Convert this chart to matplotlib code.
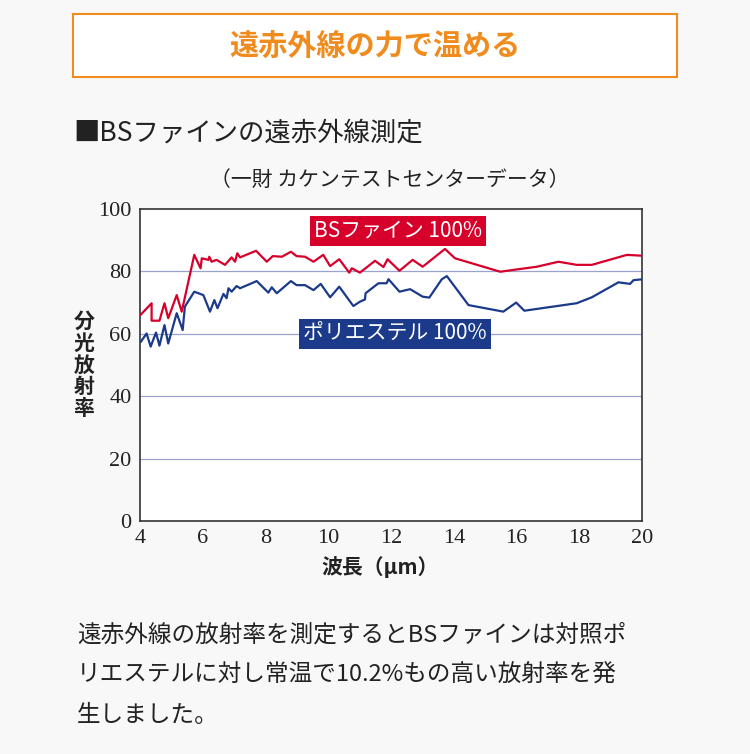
import matplotlib
matplotlib.use("Agg")
import matplotlib.pyplot as plt
from matplotlib.patches import Rectangle

plt.rcParams['font.family'] = 'Noto Sans CJK JP'

# BSファイン 100%
bs_x = [4.03, 4.37, 4.37, 4.62, 4.78, 4.90, 5.17, 5.33, 5.73, 5.93, 5.97, 6.18, 6.21, 6.28, 6.44,
        6.71, 6.92, 7.03, 7.10, 7.19, 7.70, 8.04, 8.23, 8.52, 8.81, 8.99, 9.26, 9.53, 9.84, 10.06,
        10.35, 10.67, 10.75, 11.01, 11.49, 11.76, 11.89, 12.27, 12.69, 13.01, 13.72, 14.04, 15.48,
        16.65, 17.34, 17.92, 18.40, 19.52, 20.05]
bs_y = [66.2, 69.8, 64.2, 64.2, 69.8, 65.0, 72.4, 67.1, 85.3, 81.0, 84.2, 83.7, 84.7, 83.1, 83.7,
        82.1, 84.5, 83.1, 85.8, 84.5, 86.6, 83.1, 84.9, 84.7, 86.3, 84.9, 84.7, 83.1, 85.3, 81.7,
        83.9, 79.6, 81.0, 79.6, 83.4, 81.4, 83.9, 80.2, 83.7, 81.5, 87.2, 84.2, 79.9,
        81.5, 83.1, 82.1, 82.1, 85.3, 85.0]

# ポリエステル 100%
pe_x = [4.03, 4.21, 4.34, 4.51, 4.62, 4.78, 4.90, 5.17, 5.36, 5.43, 5.73, 6.02, 6.23, 6.37, 6.47,
        6.66, 6.76, 6.82, 6.92, 7.08, 7.19, 7.72, 8.09, 8.20, 8.36, 8.81, 8.99, 9.26, 9.53, 9.76,
        10.06, 10.35, 10.80, 11.01, 11.17, 11.19, 11.60, 11.86, 11.92, 12.27, 12.61, 13.01, 13.22,
        13.62, 13.78, 14.47, 15.58, 15.99, 16.25, 17.92, 18.40, 19.25, 19.62, 19.73, 20.05]
pe_y = [57.5, 60.1, 55.9, 60.4, 56.2, 62.8, 56.9, 66.6, 61.2, 68.7, 73.5, 72.4, 67.1, 70.8, 68.2,
        72.8, 71.4, 74.6, 73.5, 75.3, 74.6, 76.9, 73.2, 74.9, 73.0, 76.9, 75.6, 75.6, 74.0, 76.0,
        71.7, 75.1, 68.9, 70.3, 71.0, 73.0, 76.2, 76.2, 77.5, 73.5, 74.3, 71.9, 71.6,
        77.5, 78.5, 69.2, 67.1, 70.0, 67.4, 69.8, 71.7, 76.5, 76.0, 77.2, 77.5]

RED = '#d7002a'
BLUE = '#1b3a8a'
ORANGE = '#f08c1e'

fig = plt.figure(figsize=(7.5, 7.54), dpi=100)
fig.patch.set_facecolor('#f8f8f8')

# title box
fig.patches.append(Rectangle((73/750, 1-77/754), 604/750, 63/754, transform=fig.transFigure,
                             facecolor='white', edgecolor=ORANGE, lw=1.5))
fig.text(0.5, 1-46/754, '遠赤外線の力で温める', color=ORANGE, fontsize=21, fontweight='bold',
         ha='center', va='center')
fig.text(73/750, 1-133/754, '■BSファインの遠赤外線測定', fontsize=19, va='center', color='#222222')
fig.text(390/750, 1-180/754, '（一財 カケンテストセンターデータ）', fontsize=15, ha='center', va='center',
         color='#222222')

ax = fig.add_axes([140/750, 1-521/754, 502/750, 312/754])
ax.set_facecolor('white')
ax.plot(bs_x, bs_y, color=RED, lw=1.6, zorder=3)
ax.plot(pe_x, pe_y, color=BLUE, lw=1.6, zorder=3)
ax.set_xlim(4, 20)
ax.set_ylim(0, 100)
ax.set_xticks(range(4, 21, 2))
ax.set_yticks(range(0, 101, 20))
for v in [20, 40, 60, 80]:
    ax.axhline(v, color='#9aa3d0', lw=0.9, zorder=1)
for s in ax.spines.values():
    s.set_color('#333333')
    s.set_linewidth(1.2)
ax.tick_params(length=0, pad=6)
for lab in ax.get_xticklabels() + ax.get_yticklabels():
    lab.set_fontfamily('Liberation Serif')
    lab.set_fontsize(16)
    lab.set_color('#222222')

ax.text(9.55, 93, 'BSファイン 100%', color='white', fontsize=15, ha='left', va='center',
        bbox=dict(boxstyle='square,pad=0.2', fc=RED, ec='none'), zorder=5)
ax.text(9.2, 60, 'ポリエステル 100%', color='white', fontsize=15, ha='left', va='center',
        bbox=dict(boxstyle='square,pad=0.2', fc=BLUE, ec='none'), zorder=5)

fig.text(84/750, 1-365/754, '分\n光\n放\n射\n率', fontsize=15, fontweight='bold', ha='center',
         va='center', linespacing=1.05, color='#222222')
fig.text(380/750, 1-567/754, '波長（μm）', fontsize=15, fontweight='bold', ha='center', va='center',
         color='#222222')

fig.text(77/750, 1-635/754, '遠赤外線の放射率を測定するとBSファインは対照ポ', fontsize=17, va='center',
         color='#222222')
fig.text(77/750, 1-675/754, 'リエステルに対し常温で10.2%もの高い放射率を発', fontsize=17, va='center',
         color='#222222')
fig.text(77/750, 1-715/754, '生しました。', fontsize=17, va='center', color='#222222')

fig.savefig('out.png', dpi=100, facecolor=fig.get_facecolor())
